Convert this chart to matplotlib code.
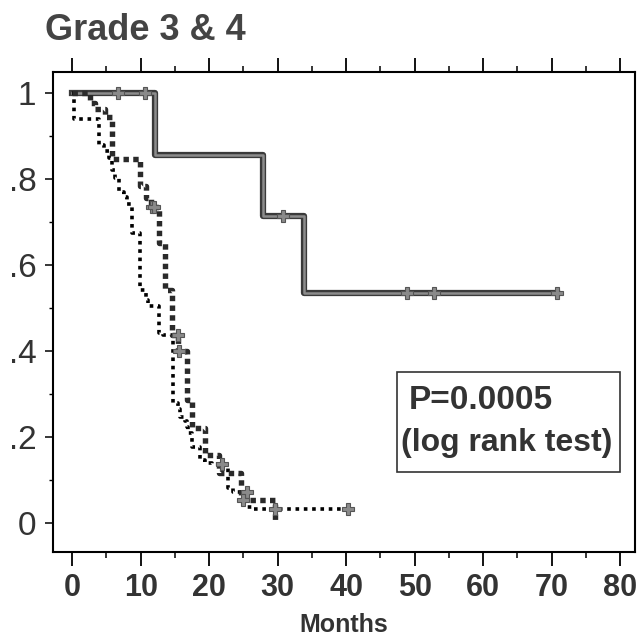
import matplotlib.pyplot as plt
from matplotlib.patches import Rectangle
from matplotlib.ticker import MultipleLocator, FixedLocator

plt.rcParams['font.family'] = ['Liberation Sans', 'DejaVu Sans']

# solid curve (n=9)
solid_t = [0, 12.1, 27.9, 33.9]
solid_s = [1.0, 0.857, 0.714, 0.536]
solid_end = 70.8
solid_cens_t = [6.7, 10.7, 30.8, 48.9, 52.8, 70.8]
solid_cens_s = [1.0, 1.0, 0.714, 0.536, 0.536, 0.536]

# fine dotted curve
fine_t = [0, 0.2, 3.9, 4.7, 5.3, 5.8, 6.3, 6.9, 7.6, 8.0, 8.8, 9.9, 10.8, 11.0,
          12.7, 13.3, 14.7, 15.5, 15.8, 16.5, 16.8, 16.9, 17.5, 18.7, 19.4,
          20.4, 22.8, 23.5, 25.0, 25.5, 26.4]
fine_s = [1.0, 0.940, 0.879, 0.865, 0.849, 0.821, 0.802, 0.770, 0.758, 0.742,
          0.674, 0.542, 0.519, 0.505, 0.442, 0.437, 0.279, 0.265, 0.247, 0.237,
          0.223, 0.209, 0.177, 0.147, 0.140, 0.137, 0.081, 0.072, 0.053, 0.037,
          0.033]
fine_end = 40.3
fine_cens_t = [21.9, 25.5, 29.6, 40.3]
fine_cens_s = [0.137, 0.072, 0.033, 0.033]

# coarse (square) dotted curve
sq_t = [0, 2.6, 3.4, 4.8, 5.8, 9.9, 10.8, 11.5, 12.7, 13.6, 14.5, 15.5, 16.8,
        17.5, 19.4, 21.5, 24.7, 29.6]
sq_s = [1.0, 0.977, 0.963, 0.944, 0.847, 0.784, 0.756, 0.735, 0.651, 0.542,
        0.437, 0.400, 0.286, 0.221, 0.158, 0.116, 0.053, 0.0]
sq_end = 29.6
sq_cens_t = [11.6, 12.0, 15.4, 15.6, 24.9]
sq_cens_s = [0.735, 0.735, 0.437, 0.400, 0.053]

p_text = 'P=0.0005'
test_text = '(log rank test)'

fig = plt.figure(figsize=(6.39, 6.43), dpi=100)
ax = fig.add_axes([0.083, 0.1415, 0.911, 0.7465])

# solid line drawn twice to get the hollow grey look of the scan
ax.step(solid_t + [solid_end], solid_s + [solid_s[-1]], where='post',
        color='#3a3a3a', lw=4.5)
ax.step(solid_t + [solid_end], solid_s + [solid_s[-1]], where='post',
        color='#8c8c8c', lw=1.8)
ax.step(fine_t + [fine_end], fine_s + [fine_s[-1]], where='post',
        color='black', lw=2.6, linestyle=(0, (1, 1.3)))
ax.step(sq_t + [sq_end], sq_s + [sq_s[-1]], where='post',
        color='#2a2a2a', lw=3.9, linestyle=(0, (1, 0.8)))

for ct, cs in [(solid_cens_t, solid_cens_s), (fine_cens_t, fine_cens_s),
               (sq_cens_t, sq_cens_s)]:
    ax.plot(ct, cs, linestyle='none', marker='P', markersize=8,
            color='#8a8a8a', markeredgecolor='#555555', markeredgewidth=0.8)

ax.set_xlim(-2.8, 82.2)
ax.set_ylim(-0.067, 1.049)

ax.xaxis.set_major_locator(MultipleLocator(10))
ax.xaxis.set_minor_locator(MultipleLocator(5))
ax.yaxis.set_major_locator(FixedLocator([0, 0.2, 0.4, 0.6, 0.8, 1.0]))
ax.yaxis.set_minor_locator(FixedLocator([0.1, 0.3, 0.5, 0.7, 0.9]))
ax.set_yticklabels(['0', '.2', '.4', '.6', '.8', '1'])

ax.tick_params(axis='x', which='major', direction='out', length=10, width=1.3,
               top=True, pad=5, labelsize=22)
ax.tick_params(axis='x', which='minor', direction='out', length=4, width=1.1,
               top=True)
ax.tick_params(axis='y', which='major', direction='out', length=6, width=1.1,
               pad=6, labelsize=24)
ax.tick_params(axis='y', which='minor', direction='out', length=3, width=1)
for lab in ax.get_xticklabels():
    lab.set_fontweight('bold')
    lab.set_color('#333333')
for lab in ax.get_yticklabels():
    lab.set_color('#333333')

for sp in ax.spines.values():
    sp.set_linewidth(1.5)

ax.set_xlabel('Months', fontsize=18, fontweight='bold', color='#333333',
              labelpad=7)

fig.text(0.07, 0.953, 'Grade 3 & 4', fontsize=26, fontweight='bold',
         color='#444444', va='center', ha='left')

# p-value box
ax.add_patch(Rectangle((47.4, 0.119), 32.6, 0.232, facecolor='white',
                       edgecolor='#333333', linewidth=1.2, zorder=3))
ax.text(49.2, 0.286, p_text, fontsize=24, fontweight='bold', color='#333333',
        ha='left', va='center', zorder=4)
ax.text(48.0, 0.186, test_text, fontsize=23, fontweight='bold',
        color='#333333', ha='left', va='center', zorder=4)

fig.savefig('out.png', dpi=100)
